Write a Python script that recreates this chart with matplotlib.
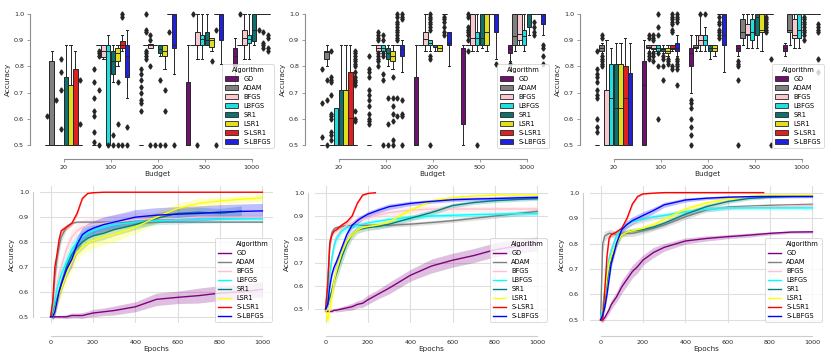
import matplotlib
matplotlib.use("Agg")
import matplotlib.pyplot as plt
from matplotlib.patches import Patch
from matplotlib.lines import Line2D
import seaborn as sns

ALGOS = ["GD", "ADAM", "BFGS", "LBFGS", "SR1", "LSR1", "S-LSR1", "S-LBFGS"]
BUDGETS = ["20", "100", "200", "500", "1000"]
COLORS = ["purple", "grey", "pink", "cyan", "teal", "yellow", "red", "blue"]

# ---------------- box statistics: (whislo, q1, med, q3, whishi) -------------
F5 = (0.5, 0.5, 0.5, 0.5, 0.5)
F88 = (0.88, 0.88, 0.88, 0.88, 0.88)
F1 = (1.0, 1.0, 1.0, 1.0, 1.0)

box1_20 = [F5, (0.5, 0.5, 0.5, 0.82, 0.86), F5, F5, (0.5, 0.5, 0.5, 0.76, 0.88),
           (0.5, 0.5, 0.5, 0.73, 0.88), (0.5, 0.5, 0.5, 0.79, 0.86), F5]
out1_20 = [[0.61], [], [0.67], [0.83, 0.78, 0.71, 0.56], [], [], [], [0.75, 0.58]]
box1_100 = [F5, F88, (0.83, 0.835, 0.86, 0.88, 0.88), (0.5, 0.5, 0.86, 0.88, 0.92),
            (0.74, 0.77, 0.82, 0.86, 0.88), (0.8, 0.82, 0.85, 0.87, 0.88),
            (0.86, 0.87, 0.88, 0.895, 0.92), (0.68, 0.76, 0.84, 0.88, 0.94)]
out1_100 = [[0.79, 0.74, 0.68, 0.63, 0.61, 0.55, 0.51], [0.86, 0.85, 0.84, 0.71, 0.5], [],
            [0.5], [0.54, 0.5], [0.74, 0.58, 0.5], [1.0, 0.99, 0.5], [0.57, 0.5]]
box1_200 = [F5, F88, (0.87, 0.87, 0.88, 0.885, 0.885), F88, (0.84, 0.85, 0.865, 0.88, 0.88),
            (0.79, 0.84, 0.86, 0.88, 0.88), F1, (0.77, 0.87, 0.88, 1.0, 1.0)]
out1_200 = [[0.79, 0.77, 0.75, 0.72, 0.70, 0.67, 0.66, 0.63], [1.0, 0.94, 0.93, 0.86, 0.85, 0.84, 0.83],
            [0.92, 0.9, 0.8, 0.5], [0.5], [0.75, 0.5], [0.71, 0.63, 0.5], [0.93], [0.5]]
box1_500 = [(0.5, 0.5, 0.5, 0.74, 0.88), F88, (0.83, 0.88, 0.88, 0.93, 1.0),
            (0.83, 0.88, 0.905, 0.92, 1.0), (0.88, 0.88, 0.9, 0.93, 1.0),
            (0.86, 0.875, 0.9, 0.91, 0.91), F1, (0.81, 0.9, 1.0, 1.0, 1.0)]
out1_500 = [[], [1.0], [0.5], [], [], [0.82], [0.94, 0.5], []]
box1_1000 = [(0.72, 0.8, 0.84, 0.87, 0.91), F88, (0.83, 0.88, 0.91, 0.94, 1.0),
             (0.83, 0.89, 0.905, 0.92, 1.0), (0.88, 0.895, 0.94, 1.0, 1.0), F1, F1, F1]
out1_1000 = [[], [1.0], [], [], [], [0.94], [0.93, 0.89, 0.88, 0.87], [0.92, 0.91, 0.87, 0.86]]

box2_20 = [F5, (0.8, 0.83, 0.855, 0.86, 0.88), F5, (0.5, 0.5, 0.5, 0.64, 0.64),
           (0.5, 0.5, 0.5, 0.71, 0.88), (0.5, 0.5, 0.5, 0.71, 0.88),
           (0.5, 0.5, 0.605, 0.78, 0.88), F5]
out2_20 = [[0.79, 0.66, 0.53], [0.75, 0.67, 0.5],
           [0.86, 0.76, 0.75, 0.74, 0.69, 0.62, 0.61, 0.6, 0.55, 0.54, 0.52], [], [], [], [],
           [0.86, 0.85, 0.84, 0.83, 0.82, 0.81, 0.8, 0.78, 0.76, 0.75, 0.74, 0.73, 0.63, 0.6, 0.59]]
box2_100 = [F5, F88, (0.86, 0.86, 0.87, 0.88, 0.88), (0.86, 0.86, 0.87, 0.88, 0.88),
            (0.8, 0.83, 0.85, 0.87, 0.88), (0.79, 0.82, 0.84, 0.86, 0.88), F88,
            (0.78, 0.84, 0.865, 0.88, 0.9)]
out2_100 = [[0.84, 0.79, 0.78, 0.76, 0.71, 0.69, 0.67, 0.65, 0.62, 0.6, 0.59, 0.58], [],
            [0.93, 0.92, 0.91, 0.9, 0.85, 0.84, 0.83, 0.82, 0.8],
            [0.92, 0.9, 0.85, 0.84, 0.77, 0.75, 0.5], [0.68, 0.58, 0.5],
            [0.76, 0.68, 0.65, 0.62, 0.59, 0.52, 0.5],
            [1.0, 0.99, 0.97, 0.96, 0.95, 0.94, 0.93, 0.92, 0.91, 0.9, 0.68, 0.61],
            [1.0, 0.99, 0.98, 0.67, 0.62, 0.61, 0.5]]
box2_200 = [(0.5, 0.5, 0.5, 0.76, 0.88), F88, (0.86, 0.88, 0.905, 0.93, 1.0),
            (0.86, 0.88, 0.89, 0.9, 0.9), (0.86, 0.875, 0.88, 0.88, 0.88),
            (0.86, 0.86, 0.87, 0.88, 0.88), F1, (0.8, 0.88, 0.89, 0.93, 0.93)]
out2_200 = [[], [], [], [1.0, 0.99, 0.98, 0.97, 0.96, 0.95, 0.94, 0.84, 0.83, 0.5], [], [],
            [0.99, 0.98, 0.97, 0.95, 0.93, 0.92], []]
box2_500 = [(0.5, 0.58, 0.87, 0.87, 0.88), F88, (0.86, 0.88, 0.91, 1.0, 1.0),
            (0.86, 0.88, 0.91, 0.93, 1.0), (0.87, 0.88, 0.91, 1.0, 1.0),
            (0.86, 0.88, 0.93, 1.0, 1.0), F1, (0.83, 0.93, 1.0, 1.0, 1.0)]
out2_500 = [[], [1.0, 0.99, 0.95, 0.94, 0.93, 0.92, 0.9, 0.86], [], [0.5], [], [], [], [0.81]]
box2_1000 = [(0.82, 0.85, 0.865, 0.88, 0.88), (0.86, 0.88, 0.915, 1.0, 1.0),
             (0.88, 0.9, 0.925, 1.0, 1.0), (0.86, 0.88, 0.915, 0.94, 1.0),
             (0.92, 0.95, 1.0, 1.0, 1.0), F1, F1, (0.92, 0.96, 1.0, 1.0, 1.0)]
out2_1000 = [[0.81, 0.79], [], [], [], [], [0.97, 0.95, 0.93, 0.92], [], [0.88, 0.87, 0.84, 0.81]]

box3_20 = [F5, (0.85, 0.86, 0.87, 0.88, 0.89), (0.5, 0.5, 0.5, 0.71, 0.9),
           (0.5, 0.5, 0.68, 0.81, 0.87), (0.5, 0.5, 0.64, 0.81, 0.89),
           (0.5, 0.5, 0.64, 0.81, 0.89), (0.5, 0.5, 0.68, 0.8, 0.91),
           (0.5, 0.5, 0.5, 0.775, 0.89)]
out3_20 = [[0.86, 0.79, 0.77, 0.76, 0.74, 0.71, 0.69, 0.68, 0.6, 0.57, 0.55],
           [0.92, 0.91, 0.84, 0.83, 0.82, 0.81, 0.8], [], [], [], [], [], []]
box3_100 = [(0.5, 0.5, 0.73, 0.82, 0.9), (0.86, 0.87, 0.875, 0.88, 0.88),
            (0.86, 0.865, 0.87, 0.88, 0.88), (0.86, 0.86, 0.87, 0.88, 0.88),
            (0.85, 0.86, 0.865, 0.87, 0.88), (0.84, 0.85, 0.86, 0.87, 0.88),
            (0.86, 0.865, 0.87, 0.88, 0.88), (0.84, 0.86, 0.87, 0.89, 0.92)]
out3_100 = [[], [0.92, 0.91, 0.85, 0.84, 0.83], [0.92, 0.91, 0.9, 0.85, 0.84, 0.82],
            [1.0, 0.95, 0.92, 0.85, 0.8, 0.6], [0.84, 0.83, 0.8, 0.75], [0.83, 0.82, 0.81],
            [1.0, 0.99, 0.98, 0.97, 0.96, 0.94, 0.93, 0.8, 0.79],
            [1.0, 0.99, 0.98, 0.97, 0.83, 0.82, 0.81, 0.8, 0.79, 0.73]]
box3_200 = [(0.7, 0.8, 0.85, 0.87, 0.92), (0.86, 0.87, 0.875, 0.88, 0.92),
            (0.86, 0.88, 0.9, 0.92, 1.0), (0.86, 0.88, 0.9, 0.92, 0.95),
            (0.83, 0.86, 0.87, 0.88, 0.88), (0.84, 0.86, 0.87, 0.88, 0.88), F1,
            (0.78, 0.88, 0.92, 1.0, 1.0)]
out3_200 = [[0.67, 0.66, 0.64, 0.6, 0.57, 0.54, 0.5], [], [1.0], [1.0], [], [],
            [0.99, 0.97, 0.96, 0.94, 0.93, 0.92, 0.91], []]
box3_500 = [(0.84, 0.86, 0.87, 0.88, 0.88), (0.88, 0.91, 0.93, 0.98, 1.0),
            (0.87, 0.92, 0.925, 0.96, 1.0), (0.87, 0.9, 0.93, 0.98, 1.0),
            (0.87, 0.92, 0.99, 1.0, 1.0), (0.86, 0.93, 0.94, 1.0, 1.0), F1, F1]
out3_500 = [[0.82, 0.81, 0.8, 0.75, 0.5], [], [], [], [], [],
            [0.99, 0.98, 0.97, 0.96, 0.95, 0.94, 0.93], [0.83, 0.5]]
box3_1000 = [(0.84, 0.86, 0.87, 0.88, 0.89), (0.88, 0.93, 0.94, 1.0, 1.0),
             (0.87, 0.91, 0.92, 0.98, 1.0), (0.87, 0.91, 0.94, 1.0, 1.0), F1, F1, F1, F1]
out3_1000 = [[], [], [], [], [0.99, 0.98, 0.97, 0.96, 0.95, 0.94, 0.93, 0.92, 0.9], [], [],
             [0.96, 0.95, 0.94, 0.93, 0.83, 0.78]]

# ---------------- learning curves ------------------------------------------
EPOCHS = [0, 10, 20, 30, 40, 50, 75, 100, 125, 150, 175, 200, 250, 300, 400, 500, 600, 700, 800, 900, 1000]

# panel 1
gd1 = [0.5, 0.5, 0.5, 0.5, 0.5, 0.5, 0.5, 0.505, 0.505, 0.505, 0.51, 0.515, 0.52, 0.525, 0.54, 0.57, 0.578, 0.585, 0.595, 0.6, 0.61]
adam1 = [0.5, 0.55, 0.66, 0.73, 0.78, 0.82, 0.86, 0.875, 0.88, 0.88, 0.88, 0.88, 0.88, 0.88, 0.88, 0.88, 0.88, 0.88, 0.88, 0.88, 0.88]
bfgs1 = [0.5, 0.53, 0.58, 0.63, 0.67, 0.7, 0.77, 0.82, 0.845, 0.86, 0.865, 0.87, 0.875, 0.88, 0.89, 0.895, 0.895, 0.9, 0.9, 0.9, 0.9]
lbfgs1 = [0.5, 0.52, 0.57, 0.61, 0.64, 0.67, 0.72, 0.77, 0.8, 0.82, 0.835, 0.845, 0.86, 0.87, 0.88, 0.885, 0.888, 0.89, 0.892, 0.893, 0.893]
sr1_1 = [0.5, 0.51, 0.54, 0.57, 0.6, 0.63, 0.7, 0.75, 0.78, 0.8, 0.815, 0.825, 0.835, 0.85, 0.87, 0.895, 0.915, 0.92, 0.915, 0.925]
lsr1_1 = [0.5, 0.5, 0.53, 0.56, 0.59, 0.61, 0.67, 0.72, 0.76, 0.78, 0.795, 0.805, 0.82, 0.83, 0.86, 0.9, 0.935, 0.955, 0.965, 0.972, 0.978]
slsr1_1 = [0.5, 0.56, 0.7, 0.75, 0.81, 0.845, 0.86, 0.875, 0.915, 0.975, 0.995, 0.998, 1.0, 1.0, 1.0, 1.0, 1.0, 1.0, 1.0, 1.0, 1.0]
slbfgs1 = [0.5, 0.5, 0.52, 0.56, 0.6, 0.63, 0.69, 0.73, 0.79, 0.83, 0.845, 0.855, 0.87, 0.88, 0.9, 0.908, 0.912, 0.915, 0.92, 0.923, 0.925]
band_gd1 = [0.003, 0.005, 0.005, 0.005, 0.006, 0.006, 0.008, 0.01, 0.01, 0.012, 0.012, 0.015, 0.015, 0.018, 0.02, 0.025, 0.025, 0.03, 0.03, 0.03, 0.03]
band_adam1 = [0.0, 0.03, 0.04, 0.04, 0.03, 0.02, 0.01, 0.005, 0.003, 0.002, 0.002, 0.002, 0.002, 0.002, 0.002, 0.002, 0.002, 0.002, 0.002, 0.002, 0.002]
band_bfgs1 = [0.0, 0.02, 0.03, 0.03, 0.03, 0.03, 0.03, 0.03, 0.03, 0.03, 0.03, 0.03, 0.03, 0.03, 0.03, 0.025, 0.025, 0.02, 0.02, 0.02, 0.02]
band_lbfgs1 = [0.0, 0.02, 0.03, 0.03, 0.03, 0.03, 0.03, 0.03, 0.03, 0.025, 0.025, 0.025, 0.025, 0.02, 0.02, 0.015, 0.015, 0.015, 0.015, 0.015, 0.015]
band_sr1_1 = [0.0, 0.02, 0.03, 0.03, 0.03, 0.03, 0.03, 0.03, 0.03, 0.03, 0.025, 0.025, 0.025, 0.025, 0.02, 0.02, 0.02, 0.02, 0.02, 0.02]
band_lsr1_1 = [0.0, 0.02, 0.03, 0.03, 0.03, 0.03, 0.035, 0.035, 0.035, 0.03, 0.03, 0.03, 0.03, 0.03, 0.025, 0.025, 0.02, 0.02, 0.015, 0.015, 0.015]
band_slsr1_1 = [0.0, 0.02, 0.02, 0.015, 0.01, 0.01, 0.01, 0.01, 0.01, 0.005, 0.002, 0.001, 0.0, 0.0, 0.0, 0.0, 0.0, 0.0, 0.0, 0.0, 0.0]
band_slbfgs1 = [0.0, 0.01, 0.02, 0.02, 0.02, 0.025, 0.03, 0.03, 0.03, 0.03, 0.03, 0.03, 0.03, 0.03, 0.03, 0.03, 0.03, 0.03, 0.03, 0.03, 0.03]

# panel 2
gd2 = [0.49, 0.49, 0.49, 0.49, 0.495, 0.495, 0.5, 0.505, 0.51, 0.52, 0.525, 0.54, 0.565, 0.59, 0.645, 0.685, 0.71, 0.73, 0.755, 0.77, 0.78]
adam2 = [0.5, 0.62, 0.79, 0.83, 0.845, 0.85, 0.855, 0.858, 0.86, 0.86, 0.86, 0.86, 0.86, 0.86, 0.865, 0.872, 0.88, 0.89, 0.9, 0.91, 0.92]
bfgs2 = [0.5, 0.55, 0.65, 0.72, 0.78, 0.81, 0.84, 0.86, 0.87, 0.88, 0.885, 0.89, 0.905, 0.915, 0.925, 0.93, 0.93, 0.93, 0.93, 0.93, 0.93]
lbfgs2 = [0.5, 0.55, 0.65, 0.72, 0.77, 0.8, 0.835, 0.85, 0.855, 0.86, 0.865, 0.87, 0.878, 0.885, 0.895, 0.9, 0.903, 0.906, 0.908, 0.91, 0.91]
sr1_2 = [0.5, 0.52, 0.55, 0.58, 0.62, 0.65, 0.72, 0.78, 0.82, 0.84, 0.845, 0.85, 0.855, 0.865, 0.89, 0.915, 0.945, 0.958, 0.966, 0.971, 0.975]
lsr1_2 = [0.5, 0.45, 0.5, 0.56, 0.62, 0.66, 0.74, 0.79, 0.82, 0.84, 0.85, 0.855, 0.862, 0.875, 0.925, 0.965, 0.98, 0.986, 0.99, 0.99, 0.99]
slsr1_2 = [0.5, 0.6, 0.78, 0.82, 0.835, 0.84, 0.86, 0.875, 0.9, 0.955, 0.99, 0.997, 1.0]
epochs_slsr1_2 = [0, 10, 20, 30, 40, 50, 75, 100, 125, 150, 175, 200, 235]
slbfgs2 = [0.5, 0.52, 0.6, 0.65, 0.68, 0.7, 0.76, 0.82, 0.86, 0.88, 0.895, 0.908, 0.925, 0.94, 0.954, 0.963, 0.97, 0.973, 0.975, 0.978, 0.98]
band_gd2 = [0.005, 0.005, 0.005, 0.005, 0.005, 0.008, 0.01, 0.012, 0.015, 0.015, 0.018, 0.02, 0.02, 0.025, 0.025, 0.03, 0.03, 0.03, 0.03, 0.03, 0.03]
band_adam2 = [0.0, 0.03, 0.02, 0.01, 0.01, 0.008, 0.008, 0.008, 0.008, 0.008, 0.008, 0.008, 0.008, 0.008, 0.008, 0.008, 0.008, 0.008, 0.01, 0.01, 0.01]
band_bfgs2 = [0.0, 0.02, 0.02, 0.02, 0.02, 0.02, 0.015, 0.015, 0.015, 0.015, 0.015, 0.015, 0.015, 0.015, 0.015, 0.015, 0.015, 0.012, 0.012, 0.012, 0.012]
band_lbfgs2 = [0.0, 0.02, 0.02, 0.02, 0.02, 0.02, 0.015, 0.012, 0.01, 0.01, 0.01, 0.01, 0.01, 0.01, 0.01, 0.01, 0.01, 0.01, 0.01, 0.01, 0.01]
band_sr1_2 = [0.0, 0.02, 0.02, 0.03, 0.03, 0.03, 0.03, 0.025, 0.02, 0.015, 0.012, 0.012, 0.012, 0.012, 0.012, 0.012, 0.01, 0.008, 0.008, 0.008, 0.008]
band_lsr1_2 = [0.0, 0.03, 0.04, 0.04, 0.04, 0.035, 0.03, 0.02, 0.015, 0.012, 0.01, 0.01, 0.01, 0.01, 0.01, 0.008, 0.006, 0.005, 0.005, 0.005, 0.005]
band_slsr1_2 = [0.0, 0.02, 0.02, 0.01, 0.008, 0.008, 0.008, 0.008, 0.008, 0.006, 0.004, 0.002, 0.0]
band_slbfgs2 = [0.0, 0.01, 0.015, 0.015, 0.015, 0.015, 0.015, 0.015, 0.015, 0.015, 0.012, 0.012, 0.012, 0.012, 0.01, 0.008, 0.008, 0.008, 0.008, 0.008, 0.008]

# panel 3
gd3 = [0.5, 0.5, 0.51, 0.525, 0.54, 0.56, 0.59, 0.63, 0.66, 0.69, 0.71, 0.735, 0.765, 0.785, 0.81, 0.82, 0.827, 0.833, 0.84, 0.845, 0.846]
adam3 = [0.5, 0.8, 0.83, 0.835, 0.84, 0.84, 0.835, 0.84, 0.84, 0.84, 0.845, 0.85, 0.86, 0.873, 0.905, 0.932, 0.943, 0.947, 0.95, 0.952, 0.954]
bfgs3 = [0.5, 0.55, 0.62, 0.69, 0.74, 0.78, 0.83, 0.86, 0.87, 0.88, 0.885, 0.89, 0.9, 0.91, 0.925, 0.935, 0.94, 0.943, 0.945, 0.948, 0.95]
lbfgs3 = [0.5, 0.55, 0.62, 0.69, 0.74, 0.77, 0.83, 0.86, 0.875, 0.885, 0.89, 0.895, 0.905, 0.91, 0.925, 0.935, 0.94, 0.94, 0.94, 0.94, 0.94]
sr1_3 = [0.5, 0.52, 0.58, 0.65, 0.7, 0.74, 0.8, 0.835, 0.845, 0.85, 0.852, 0.855, 0.865, 0.88, 0.915, 0.945, 0.965, 0.977, 0.982, 0.985, 0.986]
lsr1_3 = [0.5, 0.52, 0.6, 0.67, 0.72, 0.75, 0.8, 0.835, 0.845, 0.85, 0.855, 0.86, 0.875, 0.895, 0.935, 0.96, 0.975, 0.985, 0.99, 0.99, 0.99]
slsr1_3 = [0.5, 0.5, 0.62, 0.75, 0.82, 0.835, 0.845, 0.86, 0.9, 0.955, 0.985, 0.995, 0.998, 1.0, 1.0, 1.0, 1.0, 1.0, 1.0]
epochs_slsr1_3 = [0, 10, 20, 30, 40, 50, 75, 100, 125, 150, 175, 200, 250, 300, 400, 500, 600, 700, 770]
slbfgs3 = [0.5, 0.52, 0.55, 0.6, 0.66, 0.72, 0.8, 0.855, 0.875, 0.89, 0.9, 0.91, 0.93, 0.952, 0.971, 0.978, 0.982, 0.984, 0.985, 0.985, 0.985]
band_gd3 = [0.005, 0.008, 0.01, 0.012, 0.015, 0.018, 0.02, 0.025, 0.025, 0.025, 0.025, 0.02, 0.02, 0.015, 0.012, 0.01, 0.008, 0.008, 0.006, 0.005, 0.005]
band_adam3 = [0.0, 0.03, 0.02, 0.015, 0.015, 0.015, 0.012, 0.012, 0.012, 0.012, 0.012, 0.012, 0.01, 0.01, 0.01, 0.008, 0.008, 0.006, 0.006, 0.006, 0.006]
band_bfgs3 = [0.0, 0.02, 0.02, 0.02, 0.02, 0.02, 0.015, 0.012, 0.01, 0.01, 0.01, 0.01, 0.01, 0.01, 0.01, 0.01, 0.008, 0.008, 0.008, 0.008, 0.008]
band_lbfgs3 = [0.0, 0.02, 0.02, 0.02, 0.02, 0.02, 0.015, 0.012, 0.01, 0.01, 0.01, 0.01, 0.01, 0.01, 0.01, 0.01, 0.008, 0.008, 0.008, 0.008, 0.008]
band_sr1_3 = [0.0, 0.02, 0.02, 0.02, 0.02, 0.02, 0.015, 0.01, 0.01, 0.01, 0.01, 0.01, 0.01, 0.01, 0.01, 0.01, 0.008, 0.006, 0.005, 0.005, 0.005]
band_lsr1_3 = [0.0, 0.02, 0.02, 0.02, 0.02, 0.02, 0.015, 0.01, 0.01, 0.01, 0.01, 0.01, 0.01, 0.01, 0.01, 0.008, 0.006, 0.005, 0.004, 0.004, 0.004]
band_slsr1_3 = [0.0, 0.01, 0.02, 0.02, 0.01, 0.008, 0.008, 0.008, 0.008, 0.006, 0.004, 0.002, 0.001, 0.0, 0.0, 0.0, 0.0, 0.0, 0.0]
band_slbfgs3 = [0.0, 0.01, 0.015, 0.015, 0.015, 0.015, 0.015, 0.015, 0.015, 0.015, 0.015, 0.015, 0.012, 0.01, 0.008, 0.006, 0.005, 0.005, 0.005, 0.005, 0.005]

BOXES = [
    ([box1_20, box1_100, box1_200, box1_500, box1_1000], [out1_20, out1_100, out1_200, out1_500, out1_1000]),
    ([box2_20, box2_100, box2_200, box2_500, box2_1000], [out2_20, out2_100, out2_200, out2_500, out2_1000]),
    ([box3_20, box3_100, box3_200, box3_500, box3_1000], [out3_20, out3_100, out3_200, out3_500, out3_1000]),
]
CURVES = [
    ([gd1, adam1, bfgs1, lbfgs1, sr1_1, lsr1_1, slsr1_1, slbfgs1],
     [band_gd1, band_adam1, band_bfgs1, band_lbfgs1, band_sr1_1, band_lsr1_1, band_slsr1_1, band_slbfgs1],
     [EPOCHS] * 8),
    ([gd2, adam2, bfgs2, lbfgs2, sr1_2, lsr1_2, slsr1_2, slbfgs2],
     [band_gd2, band_adam2, band_bfgs2, band_lbfgs2, band_sr1_2, band_lsr1_2, band_slsr1_2, band_slbfgs2],
     [EPOCHS] * 6 + [epochs_slsr1_2, EPOCHS]),
    ([gd3, adam3, bfgs3, lbfgs3, sr1_3, lsr1_3, slsr1_3, slbfgs3],
     [band_gd3, band_adam3, band_bfgs3, band_lbfgs3, band_sr1_3, band_lsr1_3, band_slsr1_3, band_slbfgs3],
     [EPOCHS] * 6 + [epochs_slsr1_3, EPOCHS]),
]
YLIMS_BOTTOM = [(0.475, 1.025), (0.44, 1.029), (0.488, 1.026)]

W, H = 831, 361
fig = plt.figure(figsize=(W / 100, H / 100), dpi=100)
fig.patch.set_facecolor("white")


def frame(x0, y0, w, h):
    return [x0 / W, 1 - (y0 + h) / H, w / W, h / H]


EDGE = "#262626"
TXT = "#262626"
FS_TICK = 4.6
FS_LAB = 5.2
FS_LEG = 4.8
box_fill = [sns.desaturate(c, 0.75) for c in COLORS]

for p in range(3):
    ax = fig.add_axes(frame(40 + 275 * p, 10, 235, 139))
    stats_all, out_all = BOXES[p]
    for bi in range(len(BUDGETS)):
        for ai in range(len(ALGOS)):
            lo, q1, med, q3, hi = stats_all[bi][ai]
            st = [dict(whislo=lo, q1=q1, med=med, q3=q3, whishi=hi, fliers=out_all[bi][ai])]
            ax.bxp(st, positions=[bi + (ai - 3.5) * 0.1], widths=[0.098], patch_artist=True,
                   manage_ticks=False,
                   boxprops=dict(facecolor=box_fill[ai], edgecolor=EDGE, linewidth=0.7),
                   whiskerprops=dict(color=EDGE, linewidth=0.7),
                   capprops=dict(color=EDGE, linewidth=0.7),
                   medianprops=dict(color=EDGE, linewidth=0.7),
                   flierprops=dict(marker="d", markerfacecolor=EDGE, markeredgecolor=EDGE,
                                   markersize=2.6, linestyle="none"))
    ax.set_xlim(-0.5, 4.5)
    ax.set_ylim(0.485, 1.015)
    ax.set_xticks(range(len(BUDGETS)))
    ax.set_xticklabels(BUDGETS)
    ax.set_yticks([0.5, 0.6, 0.7, 0.8, 0.9, 1.0])
    for s in ["top", "right"]:
        ax.spines[s].set_visible(False)
    ax.spines["left"].set_position(("outward", 7))
    ax.spines["bottom"].set_position(("outward", 7))
    ax.spines["left"].set_bounds(0.5, 1.0)
    ax.spines["bottom"].set_bounds(0, 4)
    for s in ["left", "bottom"]:
        ax.spines[s].set_color("0.55")
        ax.spines[s].set_linewidth(0.8)
    ax.tick_params(labelsize=FS_TICK, colors="0.55", labelcolor=TXT, length=2.5, width=0.6, pad=2)
    ax.set_xlabel("Budget", fontsize=FS_LAB, color=TXT, labelpad=1)
    ax.set_ylabel("Accuracy", fontsize=FS_LAB, color=TXT, labelpad=2)
    handles = [Patch(facecolor=box_fill[i], edgecolor=EDGE, linewidth=0.6, label=ALGOS[i])
               for i in range(len(ALGOS))]
    leg = ax.legend(handles=handles, title="Algorithm", loc="lower right", fontsize=FS_LEG,
                    title_fontsize=FS_LEG, frameon=True, borderaxespad=0.2,
                    handlelength=2.0, handleheight=0.8, labelspacing=0.45, borderpad=0.4)
    leg.get_frame().set_edgecolor("0.8")
    leg.get_frame().set_linewidth(0.6)

for p in range(3):
    ax = fig.add_axes(frame(40 + 275 * p, 186, 233, 137))
    ax.set_axisbelow(True)
    ax.grid(True, color="0.87", linewidth=0.8)
    means, bands, eps = CURVES[p]
    for ai in range(len(ALGOS)):
        x = eps[ai]
        y = means[ai]
        b = bands[ai]
        x = x[:len(y)]
        lo = [m - d for m, d in zip(y, b)]
        hi = [m + d for m, d in zip(y, b)]
        ax.fill_between(x, lo, hi, color=COLORS[ai], alpha=0.25, linewidth=0)
        ax.plot(x, y, color=COLORS[ai], linewidth=1.0)
    ax.set_xlim(-50, 1050)
    ax.set_ylim(*YLIMS_BOTTOM[p])
    ax.set_xticks([0, 200, 400, 600, 800, 1000])
    ax.set_yticks([0.5, 0.6, 0.7, 0.8, 0.9, 1.0])
    for s in ["top", "right"]:
        ax.spines[s].set_visible(False)
    ax.spines["left"].set_position(("outward", 5))
    ax.spines["bottom"].set_position(("outward", 9))
    ax.spines["left"].set_bounds(0.5, 1.0)
    ax.spines["bottom"].set_bounds(0, 1000)
    for s in ["left", "bottom"]:
        ax.spines[s].set_color("0.8")
        ax.spines[s].set_linewidth(0.8)
    ax.tick_params(labelsize=FS_TICK, labelcolor=TXT, length=0, pad=3)
    ax.set_xlabel("Epochs", fontsize=FS_LAB, color=TXT, labelpad=1)
    ax.set_ylabel("Accuracy", fontsize=FS_LAB, color=TXT, labelpad=3)
    handles = [Line2D([], [], color="none", label="Algorithm")]
    handles += [Line2D([], [], color=COLORS[i], linewidth=1.0, label=ALGOS[i]) for i in range(len(ALGOS))]
    leg = ax.legend(handles=handles, loc="lower right", fontsize=FS_LEG, frameon=True,
                    borderaxespad=0.2, handlelength=2.0, labelspacing=0.45, borderpad=0.4)
    leg.get_frame().set_edgecolor("0.8")
    leg.get_frame().set_linewidth(0.6)

fig.savefig("out.png", dpi=100)
